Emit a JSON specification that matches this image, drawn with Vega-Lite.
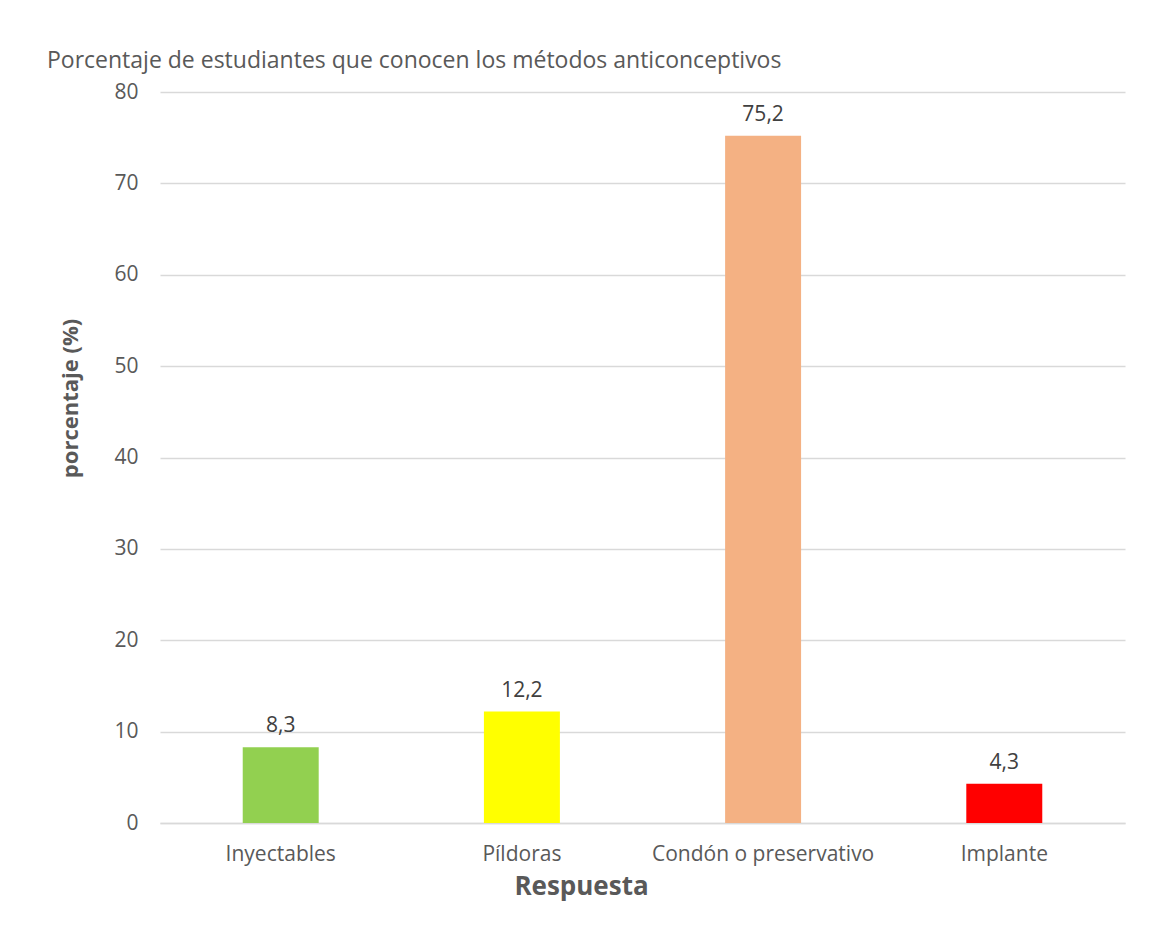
{
  "$schema": "https://vega.github.io/schema/vega-lite/v6.json",
  "autosize": "none",
  "width": 965,
  "height": 731,
  "padding": {"left": 160, "top": 92, "right": 30, "bottom": 122},
  "background": "white",
  "config": {
    "font": "Open Sans",
    "view": {"stroke": null},
    "locale": {"number": {"decimal": ",", "thousands": ".", "grouping": [3], "currency": ["", " €"]}}
  },
  "title": {
    "text": "Porcentaje de estudiantes que conocen los métodos anticonceptivos",
    "anchor": "start",
    "frame": "group",
    "dx": -113,
    "offset": 8,
    "fontSize": 23,
    "fontWeight": "normal",
    "color": "#595959",
    "font": "Open Sans"
  },
  "data": {
    "values": [
      {"respuesta": "Inyectables", "porcentaje": 8.3},
      {"respuesta": "Píldoras", "porcentaje": 12.2},
      {"respuesta": "Condón o preservativo", "porcentaje": 75.2},
      {"respuesta": "Implante", "porcentaje": 4.3}
    ]
  },
  "encoding": {
    "x": {
      "field": "respuesta",
      "type": "nominal",
      "sort": null,
      "scale": {"paddingInner": 0.685, "paddingOuter": 0.343},
      "axis": {
        "title": "Respuesta",
        "labelAngle": 0,
        "labelFontSize": 21,
        "labelLimit": 0,
        "labelColor": "#595959",
        "labelPadding": 20,
        "ticks": false,
        "domainColor": "#d9d9d9",
        "domainWidth": 1.5,
        "titleFontSize": 26,
        "titleFontWeight": "bold",
        "titleColor": "#595959",
        "titlePadding": 9,
        "titleX": 421,
        "titleAlign": "center"
      }
    },
    "y": {
      "field": "porcentaje",
      "type": "quantitative",
      "scale": {"domain": [0, 80]},
      "axis": {
        "title": "porcentaje (%)",
        "values": [0, 10, 20, 30, 40, 50, 60, 70, 80],
        "labelFontSize": 21,
        "labelColor": "#595959",
        "labelPadding": 22,
        "ticks": false,
        "domain": false,
        "gridColor": "#d9d9d9",
        "gridWidth": 1.3,
        "titleFontSize": 22,
        "titleFontWeight": "bold",
        "titleColor": "#595959",
        "titleX": -78,
        "titleY": 306,
        "titleAlign": "center",
        "titleBaseline": "bottom",
        "titleAngle": -90
      }
    }
  },
  "layer": [
    {
      "mark": {"type": "bar"},
      "encoding": {
        "color": {
          "field": "respuesta",
          "type": "nominal",
          "sort": null,
          "scale": {
            "domain": ["Inyectables", "Píldoras", "Condón o preservativo", "Implante"],
            "range": ["#92d050", "#ffff00", "#f4b183", "#ff0000"]
          },
          "legend": null
        }
      }
    },
    {
      "mark": {"type": "text", "baseline": "bottom", "dy": -11, "fontSize": 21, "color": "#404040"},
      "encoding": {
        "text": {"field": "porcentaje", "type": "quantitative", "format": ".1f"}
      }
    }
  ]
}
